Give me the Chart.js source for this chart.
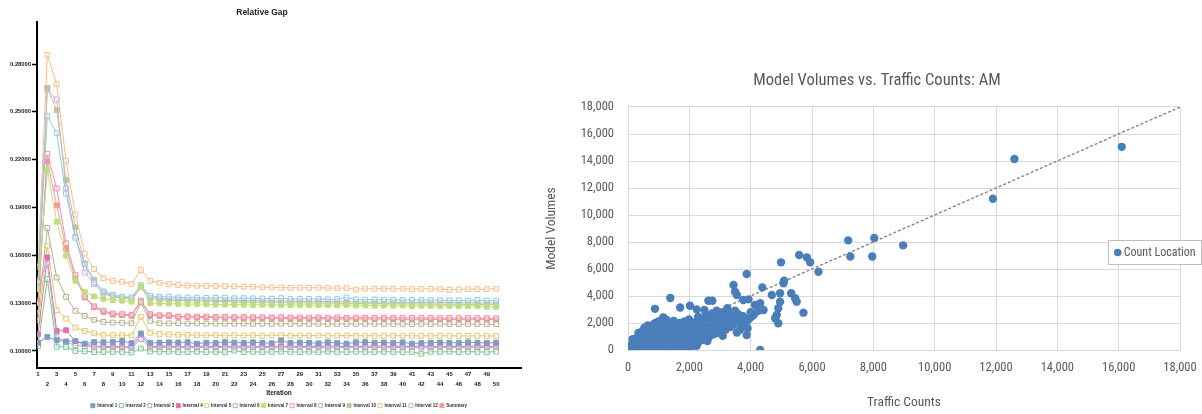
<!DOCTYPE html>
<html><head><meta charset="utf-8">
<script src="https://cdn.jsdelivr.net/npm/chart.js@4.4.1/dist/chart.umd.min.js"></script>
<style>
html,body{margin:0;padding:0;background:#fff;width:1202px;height:414px;overflow:hidden;position:relative;}
#left{position:absolute;left:0;top:0;}
#right{position:absolute;left:520px;top:0;}
</style></head><body>
<canvas id="left" width="526" height="414"></canvas>
<canvas id="right" width="714" height="414"></canvas>
<script>
// ---------- Left chart data: Relative Gap ----------
const iterations = [1,2,3,4,5,6,7,8,9,10,11,12,13,14,15,16,17,18,19,20,21,22,23,24,25,26,27,28,29,30,31,32,33,34,35,36,37,38,39,40,41,42,43,44,45,46,47,48,49,50];
const gapTicks = [0.10,0.13,0.16,0.19,0.22,0.25,0.28];
const seriesNames = ['Interval 1','Interval 2','Interval 3','Interval 4','Interval 5','Interval 6','Interval 7','Interval 8','Interval 9','Interval 10','Interval 11','Interval 12','Summary'];

const interval1 = [0.1052,0.1088,0.1067,0.1060,0.1062,0.1046,0.1056,0.1055,0.1056,0.1062,0.1050,0.1110,0.1050,0.1052,0.1054,0.1053,0.1055,0.1046,0.1052,0.1050,0.1055,0.1053,0.1051,0.1054,0.1052,0.1048,0.1066,0.1050,0.1053,0.1052,0.1048,0.1054,0.1050,0.1046,0.1054,0.1055,0.1052,0.1053,0.1050,0.1054,0.1046,0.1050,0.1052,0.1053,0.1050,0.1052,0.1054,0.1052,0.1050,0.1052];
const interval2 = [0.1031,0.1451,0.1027,0.1025,0.1000,0.0998,0.0993,0.0993,0.0994,0.0994,0.0990,0.1015,0.0996,0.0995,0.0996,0.0993,0.0994,0.0995,0.0993,0.0994,0.0992,0.1002,0.0993,0.0995,0.0993,0.0994,0.0996,0.0994,0.0993,0.0995,0.0992,0.0996,0.0994,0.0993,0.0995,0.0994,0.0993,0.0995,0.0994,0.0993,0.0994,0.0983,0.0995,0.0994,0.0996,0.0993,0.0995,0.0994,0.0993,0.0996];
const interval3 = [0.1435,0.1548,0.1090,0.1055,0.1035,0.1030,0.1025,0.1022,0.1022,0.1020,0.1020,0.1075,0.1022,0.1021,0.1023,0.1020,0.1022,0.1021,0.1023,0.1020,0.1022,0.1021,0.1020,0.1023,0.1022,0.1021,0.1020,0.1022,0.1023,0.1021,0.1022,0.1020,0.1021,0.1023,0.1022,0.1021,0.1022,0.1020,0.1021,0.1022,0.1023,0.1021,0.1020,0.1022,0.1021,0.1022,0.1020,0.1021,0.1022,0.1021];
const interval4 = [0.1105,0.1587,0.1126,0.1130,0.1060,0.1042,0.1032,0.1028,0.1027,0.1026,0.1025,0.1100,0.1030,0.1029,0.1031,0.1028,0.1030,0.1029,0.1031,0.1028,0.1030,0.1029,0.1031,0.1030,0.1028,0.1030,0.1029,0.1031,0.1028,0.1030,0.1029,0.1031,0.1030,0.1028,0.1030,0.1029,0.1031,0.1030,0.1028,0.1030,0.1029,0.1031,0.1030,0.1028,0.1030,0.1029,0.1030,0.1031,0.1029,0.1030];
const interval5 = [0.1193,0.1660,0.1256,0.1203,0.1147,0.1126,0.1111,0.1101,0.1099,0.1099,0.1098,0.1214,0.1115,0.1107,0.1104,0.1102,0.1100,0.1099,0.1098,0.1099,0.1097,0.1098,0.1097,0.1098,0.1096,0.1097,0.1098,0.1096,0.1097,0.1096,0.1097,0.1095,0.1096,0.1097,0.1095,0.1096,0.1095,0.1096,0.1095,0.1096,0.1096,0.1094,0.1095,0.1096,0.1094,0.1095,0.1094,0.1095,0.1094,0.1094];
const interval6 = [0.1240,0.1772,0.1461,0.1340,0.1252,0.1220,0.1195,0.1182,0.1178,0.1177,0.1174,0.1304,0.1189,0.1174,0.1173,0.1174,0.1172,0.1173,0.1171,0.1172,0.1172,0.1171,0.1172,0.1170,0.1171,0.1170,0.1171,0.1170,0.1171,0.1169,0.1170,0.1169,0.1170,0.1169,0.1170,0.1169,0.1170,0.1168,0.1169,0.1169,0.1168,0.1169,0.1168,0.1169,0.1168,0.1168,0.1169,0.1168,0.1168,0.1168];
const interval7 = [0.1388,0.2135,0.1811,0.1598,0.1440,0.1371,0.1342,0.1325,0.1319,0.1315,0.1309,0.1403,0.1300,0.1298,0.1297,0.1295,0.1294,0.1295,0.1292,0.1291,0.1291,0.1290,0.1290,0.1289,0.1290,0.1288,0.1289,0.1288,0.1287,0.1288,0.1286,0.1287,0.1286,0.1288,0.1285,0.1286,0.1284,0.1285,0.1284,0.1285,0.1280,0.1284,0.1283,0.1282,0.1283,0.1281,0.1282,0.1281,0.1278,0.1277];
const interval8 = [0.1300,0.2236,0.2020,0.1675,0.1478,0.1340,0.1280,0.1252,0.1235,0.1231,0.1226,0.1315,0.1231,0.1224,0.1224,0.1216,0.1217,0.1215,0.1216,0.1213,0.1214,0.1212,0.1213,0.1211,0.1212,0.1211,0.1212,0.1210,0.1211,0.1210,0.1210,0.1209,0.1210,0.1208,0.1210,0.1209,0.1208,0.1209,0.1208,0.1208,0.1207,0.1208,0.1207,0.1206,0.1207,0.1206,0.1207,0.1206,0.1205,0.1205];
const interval9 = [0.1420,0.2473,0.2366,0.1988,0.1710,0.1545,0.1430,0.1373,0.1352,0.1340,0.1337,0.1413,0.1346,0.1340,0.1341,0.1336,0.1335,0.1334,0.1333,0.1333,0.1335,0.1330,0.1331,0.1330,0.1329,0.1328,0.1331,0.1326,0.1327,0.1326,0.1327,0.1324,0.1325,0.1335,0.1324,0.1322,0.1323,0.1321,0.1321,0.1320,0.1320,0.1319,0.1318,0.1319,0.1317,0.1318,0.1316,0.1320,0.1316,0.1315];
const interval10 = [0.1410,0.2651,0.2511,0.2072,0.1776,0.1550,0.1447,0.1370,0.1345,0.1335,0.1330,0.1405,0.1335,0.1330,0.1328,0.1325,0.1323,0.1322,0.1320,0.1319,0.1318,0.1317,0.1316,0.1316,0.1315,0.1314,0.1313,0.1313,0.1312,0.1311,0.1311,0.1310,0.1309,0.1310,0.1308,0.1307,0.1307,0.1306,0.1306,0.1305,0.1305,0.1304,0.1304,0.1303,0.1303,0.1302,0.1302,0.1301,0.1301,0.1300];
const interval11 = [0.1528,0.2857,0.2674,0.2194,0.1856,0.1611,0.1514,0.1457,0.1440,0.1434,0.1421,0.1508,0.1440,0.1428,0.1421,0.1414,0.1410,0.1409,0.1408,0.1408,0.1407,0.1405,0.1404,0.1403,0.1400,0.1399,0.1397,0.1396,0.1397,0.1396,0.1397,0.1395,0.1394,0.1395,0.1386,0.1391,0.1390,0.1391,0.1390,0.1390,0.1388,0.1390,0.1389,0.1388,0.1384,0.1386,0.1388,0.1388,0.1388,0.1390];
const interval12 = [0.1440,0.2640,0.2578,0.2020,0.1720,0.1492,0.1420,0.1360,0.1340,0.1330,0.1326,0.1400,0.1330,0.1322,0.1318,0.1316,0.1315,0.1313,0.1312,0.1311,0.1310,0.1308,0.1307,0.1306,0.1305,0.1305,0.1304,0.1302,0.1302,0.1301,0.1300,0.1300,0.1299,0.1299,0.1298,0.1297,0.1297,0.1296,0.1296,0.1295,0.1295,0.1294,0.1294,0.1293,0.1293,0.1293,0.1292,0.1292,0.1292,0.1292];
const summary = [0.1304,0.2190,0.1913,0.1640,0.1460,0.1335,0.1275,0.1245,0.1228,0.1224,0.1220,0.1310,0.1225,0.1220,0.1219,0.1214,0.1213,0.1211,0.1210,0.1209,0.1208,0.1207,0.1206,0.1206,0.1205,0.1204,0.1204,0.1203,0.1203,0.1202,0.1202,0.1201,0.1201,0.1200,0.1200,0.1200,0.1199,0.1199,0.1199,0.1198,0.1198,0.1198,0.1198,0.1197,0.1197,0.1197,0.1197,0.1197,0.1197,0.1197];

// ---------- Right chart data: Model Volumes vs Traffic Counts ----------
const axisTicks = [0,2000,4000,6000,8000,10000,12000,14000,16000,18000];
const countX = [
 40,110,190,280,380,470,580,690,790,890,990,1090,1190,1340,1490,1640,1790,1940,2090,2240,
 70,170,250,340,440,540,640,740,840,940,1040,1140,1240,1390,1540,1690,1840,1990,2140,2290,2440,2590,
 150,290,400,510,610,710,810,910,1010,1110,1210,1310,1440,1590,1740,1890,2040,2190,2340,2490,2640,2790,2940,3090,
 340,470,590,690,790,890,990,1090,1190,1290,1390,1490,1640,1790,1940,2090,2240,2390,2540,2690,2840,2990,3190,3340,
 540,640,740,840,940,1040,1140,1240,1340,1440,1590,1740,1890,2040,2190,2340,2490,2640,2790,2940,3090,3240,3440,
 890,990,1140,1290,1490,1690,1840,1990,2190,2390,2590,2790,2990,3190,3390,3590,3690,
 2290,2540,2740,2940,3140,3290,3490,2490,2890,3090,
 3600,3750,3650,3800,3950,4100,3550,3450,3300,
 880,1380,1700,2020,1150,1250,2620,2750,2240,3240,3440,3490,3550,3870,3760,3930,4380,4690,4960,5320,5450,5500,5720,4960,4900,4850,4800,4900,4310,4310,4140,4420,4030,3870,3870,3900,3700,4000,4250,
 4990,5090,5070,5580,5830,5940,6210,7180,8030,8970,7250,7965,11900,12600,16100];
const countY = [
 60,160,70,30,130,20,110,30,70,20,90,40,130,50,160,70,210,130,270,320,
 360,430,520,390,610,460,660,510,710,430,610,490,710,570,460,630,530,710,610,560,760,660,
 800,910,1010,860,1060,910,1110,860,1010,910,1110,960,1060,910,1110,960,1060,910,1110,1010,960,1160,1260,1060,
 1260,1410,1310,1510,1360,1460,1260,1460,1310,1510,1360,1260,1460,1360,1510,1310,1460,1360,1510,1410,1560,1610,1510,1710,
 1660,1810,1710,1910,1660,1860,1710,1810,1660,1910,1760,1660,1810,1710,1910,1760,1860,1710,1910,1810,1960,2010,1860,
 2010,2110,2060,2010,2160,2010,2110,2260,2060,2210,2310,2160,2360,2260,2460,2660,2410,
 2460,2560,2710,2610,2810,2710,2910,2960,2910,2510,
 2200,2500,1500,1800,2300,2600,1300,2200,1900,
 3050,3850,3150,3280,2420,2250,3650,3650,3010,3090,4815,4320,4074,5630,3700,3750,4640,4074,4200,4200,3830,3580,2765,3580,3090,2590,2350,1980,0,3460,3330,2960,2470,2100,1110,1600,1900,2800,2900,
 6494,5136,4940,7037,6864,6494,5800,8120,8300,7750,6925,6925,11200,14150,15050];
const trendX = [0, 18000];
const trendY = [0, 18000];

// ---------- Styles ----------
const seriesColors = ['#7f9cc4','#7cc48e','#b9a4cf','#de6fb4','#e8c76a','#b5b18e','#bde07b','#ec8ea7','#8ec9ea','#c3c29c','#f8be8a','#d8a8d8','#f49a92'];
const seriesFilled = [true,false,false,true,false,false,true,false,false,true,false,false,true];
const LF = "'Liberation Sans', Arial, sans-serif";
const NF = "'Liberation Sans Narrow', 'Roboto Condensed', 'Liberation Sans', sans-serif";
const gapValues = [interval1,interval2,interval3,interval4,interval5,interval6,interval7,interval8,interval9,interval10,interval11,interval12,summary];

new Chart(document.getElementById('left'), {
  type: 'line',
  data: {
    datasets: seriesNames.map((name, k) => ({
      label: name,
      data: iterations.map((it, i) => ({x: it, y: gapValues[k][i]})),
      borderColor: seriesColors[k],
      backgroundColor: seriesColors[k],
      pointBackgroundColor: seriesFilled[k] ? seriesColors[k] : 'rgba(255,255,255,0.4)',
      pointBorderColor: seriesColors[k],
      pointStyle: 'rect',
      pointRadius: 3.4,
      pointBorderWidth: 1,
      borderWidth: 1,
      tension: 0,
      fill: false
    }))
  },
  options: {
    responsive: false, animation: false, devicePixelRatio: 1,
    layout: {padding: {left: 0, right: 2, top: 0, bottom: -4}},
    plugins: {
      title: {display: true, text: 'Relative Gap', color: '#222', font: {family: LF, size: 8.5, weight: 'bold'}, padding: {top: 7.9, bottom: 3.9}},
      legend: {position: 'bottom', fullSize: false, labels: {usePointStyle: true, boxWidth: 4, boxHeight: 4, padding: 2, color: '#333', font: {family: LF, size: 4.6, weight: 'bold'}}},
      tooltip: {enabled: false}
    },
    scales: {
      x: {
        type: 'linear', min: 0.894, max: 52.66,
        afterBuildTicks: s => { s.ticks = iterations.map(v => ({value: v})); },
        afterFit: s => { s.height = 33.4; },
        grid: {display: false, drawTicks: false},
        border: {display: true, color: '#000', width: 2},
        ticks: {autoSkip: false, maxRotation: 0, padding: 1.3, color: '#222', font: {family: LF, size: 6, weight: 'bold', lineHeight: 1.67},
                callback: v => (v % 2 ? String(v) : ['', String(v)])},
        title: {display: true, text: 'Iteration', color: '#222', font: {family: LF, size: 6.5, weight: 'bold'}, padding: {top: 0, bottom: 3.8}}
      },
      y: {
        min: 0.0893, max: 0.3064,
        afterBuildTicks: s => { s.ticks = gapTicks.map(v => ({value: v})); },
        afterFit: s => { s.width = 37; },
        grid: {drawOnChartArea: false, drawTicks: true, tickLength: 5, color: '#000', tickWidth: 1.5},
        border: {color: '#000', width: 2},
        ticks: {padding: 1, color: '#222', font: {family: LF, size: 5.8, weight: 'bold'}, callback: v => v.toFixed(5)}
      }
    }
  }
});

const legendBox = {
  id: 'legendBox',
  afterDraw(chart) {
    const ctx = chart.ctx, ds = chart.data.datasets[0];
    ctx.save();
    ctx.fillStyle = '#ffffff';
    ctx.strokeStyle = '#bfbfbf';
    ctx.lineWidth = 1;
    ctx.fillRect(588, 240.5, 93, 24);
    ctx.strokeRect(588.5, 240.5, 93, 24);
    ctx.fillStyle = ds.backgroundColor;
    ctx.beginPath(); ctx.arc(597.7, 252.5, 3.8, 0, Math.PI * 2); ctx.fill();
    ctx.fillStyle = '#595959';
    ctx.font = '12px ' + NF;
    ctx.textBaseline = 'middle';
    ctx.fillText(ds.label, 603.7, 253);
    ctx.restore();
  }
};

new Chart(document.getElementById('right'), {
  type: 'scatter',
  data: {
    datasets: [
      {label: 'Count Location', data: countX.map((x, i) => ({x: x, y: countY[i]})), backgroundColor: '#4a7ebb', borderColor: '#4a7ebb', pointRadius: 4.2, pointBorderWidth: 0},
      {type: 'line', label: 'Linear', data: trendX.map((x, i) => ({x: x, y: trendY[i]})), borderColor: '#858585', borderDash: [3, 2], borderWidth: 1.4, pointRadius: 0, fill: false}
    ]
  },
  options: {
    responsive: false, animation: false, devicePixelRatio: 1,
    layout: {padding: {left: 54, right: 54, top: 0, bottom: 0}},
    plugins: {
      legend: {display: false},
      tooltip: {enabled: false},
      title: {display: true, text: 'Model Volumes vs. Traffic Counts: AM', color: '#595959', font: {family: NF, size: 16.5, weight: 'normal'}, padding: {top: 71.1, bottom: 16.1}}
    },
    scales: {
      x: {
        type: 'linear', min: 0, max: 18000,
        afterBuildTicks: s => { s.ticks = axisTicks.map(v => ({value: v})); },
        afterFit: s => { s.height = 64; },
        grid: {color: '#d9d9d9', drawTicks: false},
        border: {color: '#d9d9d9'},
        ticks: {padding: 10.5, color: '#595959', font: {family: NF, size: 12.5}, callback: v => v.toLocaleString('en-US')},
        title: {display: true, text: 'Traffic Counts', color: '#595959', font: {family: NF, size: 13.5}, padding: {top: 0, bottom: 2.9}}
      },
      y: {
        type: 'linear', min: 0, max: 18000,
        afterBuildTicks: s => { s.ticks = axisTicks.map(v => ({value: v})); },
        afterFit: s => { s.width = 54; },
        grid: {color: '#d9d9d9', drawTicks: false},
        border: {color: '#d9d9d9'},
        ticks: {padding: 14, color: '#595959', font: {family: NF, size: 12.5}, callback: v => v.toLocaleString('en-US')},
        title: {display: true, text: 'Model Volumes', color: '#595959', font: {family: NF, size: 13.5}, padding: {top: -30.1, bottom: 0}}
      }
    }
  },
  plugins: [legendBox]
});
</script>
</body></html>
